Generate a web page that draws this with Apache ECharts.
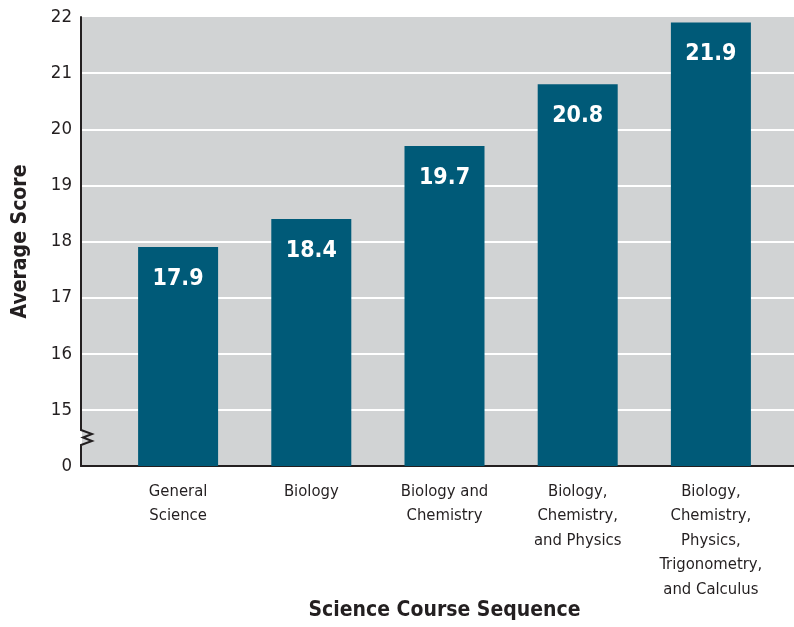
<!DOCTYPE html>
<html>
<head>
<meta charset="utf-8">
<script src="https://cdn.jsdelivr.net/npm/echarts@6/dist/echarts.min.js"></script>
<style>
    html, body { margin: 0; padding: 0; background: #fff; }
    #main { width: 794px; height: 627px; }
</style>
</head>
<body>
<div id="main"></div>
<script>
var categories = [
    'General\nScience',
    'Biology',
    'Biology and\nChemistry',
    'Biology,\nChemistry,\nand Physics',
    'Biology,\nChemistry,\nPhysics,\nTrigonometry,\nand Calculus'
];
var scores = [17.9, 18.4, 19.7, 20.8, 21.9];
// the axis is broken: the lowest tick (14) is printed as 0
var yMin = 14;
var yMax = 22;

var font = "'Liberation Sans Narrow', 'DejaVu Sans Condensed', 'Roboto', sans-serif";
var ink = '#231f20';

var chart = echarts.init(document.getElementById('main'));

chart.setOption({
    animation: false,
    textStyle: { fontFamily: font },
    grid: [{
        // background panel with y axis and gridlines
        left: 81, right: 0, top: 17, bottom: 161,
        outerBoundsMode: 'none',
        containLabel: false,
        show: true,
        backgroundColor: '#d1d3d4',
        borderWidth: 0
    }, {
        // bars
        left: 111.5, right: 16.5, top: 17, bottom: 161,
        outerBoundsMode: 'none',
        containLabel: false
    }],
    xAxis: [{
        gridIndex: 0,
        type: 'category',
        data: [''],
        axisLine: { lineStyle: { color: ink, width: 2 } },
        axisTick: { show: false },
        axisLabel: { show: false }
    }, {
        gridIndex: 1,
        type: 'category',
        data: categories,
        axisLine: { show: false },
        axisTick: { show: false },
        axisLabel: {
            interval: 0,
            color: ink,
            fontSize: 16.5,
            lineHeight: 24.5,
            margin: 13,
            fontFamily: font
        },
        name: 'Science Course Sequence',
        nameLocation: 'middle',
        nameGap: 134,
        nameMoveOverlap: false,
        nameTextStyle: {
            color: ink,
            fontSize: 21,
            fontWeight: 'bold',
            fontFamily: font
        }
    }],
    yAxis: [{
        gridIndex: 0,
        type: 'value',
        min: yMin,
        max: yMax,
        interval: 1,
        axisLine: { show: true, lineStyle: { color: ink, width: 2 } },
        axisTick: { show: false },
        axisLabel: {
            color: ink,
            fontSize: 18.5,
            margin: 9,
            fontFamily: font,
            formatter: function (v) { return v === yMin ? '0' : String(v); }
        },
        splitLine: {
            show: true,
            showMinLine: false,
            showMaxLine: false,
            lineStyle: { color: '#ffffff', width: 2 }
        },
        name: 'Average Score',
        nameLocation: 'middle',
        nameGap: 50,
        nameTextStyle: {
            color: ink,
            fontSize: 21,
            fontWeight: 'bold',
            fontFamily: font
        }
    }, {
        gridIndex: 1,
        type: 'value',
        min: yMin,
        max: yMax,
        interval: 1,
        show: false
    }],
    series: [{
        type: 'bar',
        xAxisIndex: 1,
        yAxisIndex: 1,
        data: scores,
        barWidth: 80,
        itemStyle: { color: '#005a78' },
        label: {
            show: true,
            position: 'insideTop',
            distance: 20,
            color: '#ffffff',
            fontSize: 23,
            fontWeight: 'bold',
            fontFamily: font,
            formatter: function (p) { return p.value.toFixed(1); }
        }
    }],
    graphic: [{
        type: 'rect',
        shape: { x: 78, y: 429, width: 4, height: 17 },
        style: { fill: '#ffffff' },
        z: 100
    }, {
        type: 'rect',
        shape: { x: 82, y: 429, width: 12, height: 17 },
        style: { fill: '#d1d3d4' },
        z: 100
    }, {
        type: 'polyline',
        shape: { points: [[81, 427], [81, 430], [92, 434], [83, 437.5], [92, 441], [81, 445], [81, 448]] },
        style: { stroke: ink, lineWidth: 2, fill: null },
        z: 101
    }]
});
</script>
</body>
</html>
